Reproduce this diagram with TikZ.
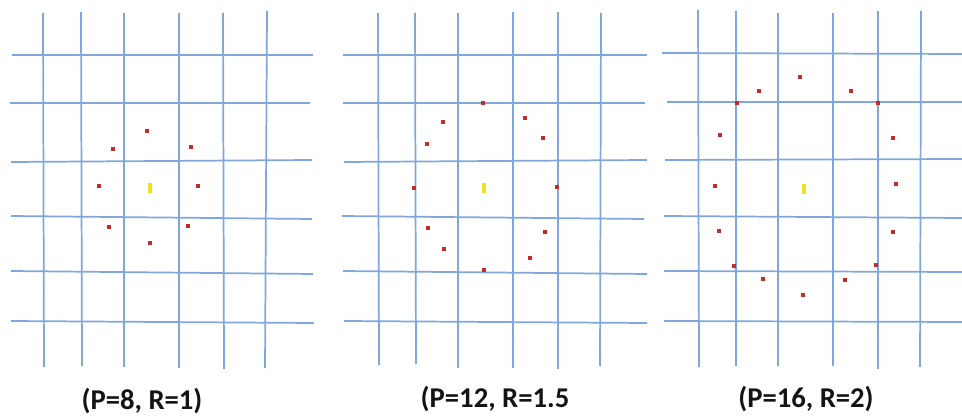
\documentclass[tikz,border=0pt]{standalone}
\usepackage{fontspec}
\setmainfont{Carlito}
\usepackage{tikz}
\usetikzlibrary{positioning}

\definecolor{gridblue}{HTML}{7FA7DD}
\definecolor{ptred}{HTML}{C42A26}
\definecolor{ctryellow}{HTML}{F2E01A}
\definecolor{labelink}{HTML}{141414}

\begin{document}
\begin{tikzpicture}[
    x=0.75pt, y=-0.75pt,
    gridline/.style={draw=gridblue, line width=1.3pt},
    pt/.style={rectangle, fill=ptred, inner sep=0pt, minimum width=3.6pt, minimum height=3.6pt},
    ctr/.style={rectangle, fill=ctryellow, inner sep=0pt, minimum width=3.4pt, minimum height=6.8pt},
    caption/.style={font=\bfseries\fontsize{21.5}{24}\selectfont, text=labelink, inner sep=0pt}
]
\useasboundingbox (0,0) rectangle (962,416);

% panel 1: P=8, R=1
\foreach \xa/\ya/\xb/\yb in {12/55/313/55, 10/103/310/103, 11/162/312/160,
    11/216/312/219, 11/271/313/274, 11/321/314/323}
    \draw[gridline] (\xa,\ya) -- (\xb,\yb);
\foreach \xa/\xb/\ya/\yb in {43/44/13/367, 81/82/12/366, 124/124/13/367,
    179/179/13/368, 223/224/13/369, 267/265/11/368}
    \draw[gridline] (\xa,\ya) -- (\xb,\yb);
\node[ctr] (c1) at (150,188) {};
\foreach \px/\py [count=\i] in {147/131, 191/147, 198/186, 188/226,
    150/243, 109/227, 99/186, 113/149}
    \node[pt] (a\i) at (\px,\py) {};
\node[caption] (lab1) at (142,401) {(P=8, R=1)};

% panel 2: P=12, R=1.5
\foreach \xa/\ya/\xb/\yb in {343/55/647/55, 343/103/645/103, 344/162/647/160,
    342/216/644/219, 343/271/647/274, 344/321/647/323}
    \draw[gridline] (\xa,\ya) -- (\xb,\yb);
\foreach \xa/\xb/\ya/\yb in {378/379/13/365, 415/416/13/364, 458/458/13/368,
    513/513/12/368, 558/558/12/369, 601/600/13/366}
    \draw[gridline] (\xa,\ya) -- (\xb,\yb);
\node[ctr] (c2) at (484,188) {};
\foreach \px/\py [count=\i] in {483/103, 525/118, 543/138, 557/187,
    545/232, 530/258, 484/270, 444/249, 428/228, 414/188, 427/144, 443/122}
    \node[pt] (b\i) at (\px,\py) {};
\node[caption] (lab2) at (495,399) {(P=12, R=1.5};

% panel 3: P=16, R=2
\foreach \xa/\ya/\xb/\yb in {662/53/962/54, 667/102/962/102, 665/160/962/159,
    664/216/962/218, 664/271/962/272, 664/321/962/322}
    \draw[gridline] (\xa,\ya) -- (\xb,\yb);
\foreach \xa/\xb/\ya/\yb in {698/699/10/367, 736/736/11/366, 778/778/13/366,
    833/833/13/366, 878/878/11/369, 921/920/11/367}
    \draw[gridline] (\xa,\ya) -- (\xb,\yb);
\node[ctr] (c3) at (804,189) {};
\foreach \px/\py [count=\i] in {800/77, 851/91, 878/103, 893/138, 896/184,
    893/232, 876/265, 845/280, 803/295, 763/279, 734/266, 719/231,
    715/186, 720/135, 737/103, 759/91}
    \node[pt] (d\i) at (\px,\py) {};
\node[caption] (lab3) at (806,399) {(P=16, R=2)};
\end{tikzpicture}
\end{document}
